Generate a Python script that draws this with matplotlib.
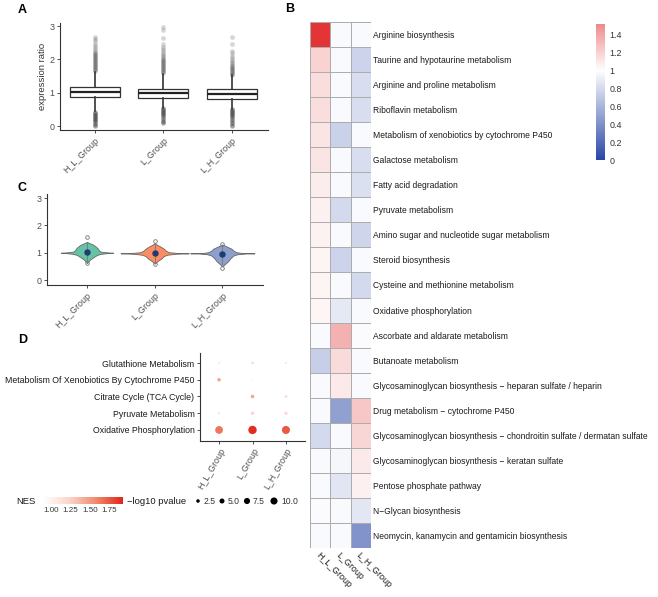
import matplotlib
matplotlib.use("Agg")
import matplotlib.pyplot as plt
import numpy as np
from matplotlib.colors import LinearSegmentedColormap, TwoSlopeNorm, Normalize

plt.rcParams['font.family'] = ['Liberation Sans', 'DejaVu Sans']

# ---------------- data ----------------
groups = ['H_L_Group', 'L_Group', 'L_H_Group']

# panel A: box statistics
box_q1 = [0.86, 0.85, 0.82]
box_med = [1.03, 0.99, 0.97]
box_q3 = [1.18, 1.12, 1.10]
whis_lo = [0.45, 0.55, 0.52]
whis_hi = [1.62, 1.57, 1.52]
fliers_hi = [
    [1.64, 1.67, 1.70, 1.73, 1.76, 1.79, 1.82, 1.85, 1.88, 1.91, 1.94, 1.97, 2.00, 2.03, 2.06,
     2.09, 2.12, 2.15, 2.19, 2.23, 2.28, 2.34, 2.40, 2.47, 2.55, 2.62, 2.67],
    [1.59, 1.62, 1.65, 1.68, 1.71, 1.74, 1.77, 1.80, 1.83, 1.86, 1.89, 1.92, 1.95, 1.98, 2.01,
     2.05, 2.09, 2.14, 2.19, 2.25, 2.31, 2.38, 2.46, 2.64, 2.88, 2.97],
    [1.54, 1.57, 1.60, 1.63, 1.66, 1.69, 1.72, 1.75, 1.78, 1.81, 1.84, 1.88, 1.92, 1.97, 2.03,
     2.10, 2.18, 2.26, 2.45, 2.68],
]
fliers_lo = [
    [0.43, 0.40, 0.37, 0.34, 0.31, 0.28, 0.25, 0.22, 0.19, 0.15, 0.11, 0.07, 0.03, 0.00],
    [0.53, 0.50, 0.47, 0.44, 0.41, 0.38, 0.35, 0.32, 0.29, 0.25, 0.21, 0.16, 0.11, 0.08],
    [0.50, 0.47, 0.44, 0.41, 0.38, 0.35, 0.32, 0.29, 0.26, 0.22, 0.18, 0.13, 0.08, 0.03, 0.00],
]

# panel C: violin outlines (value, half width in px)
violin_colors = ['#66c2a5', '#fc8d62', '#8da0cb']
violin_y = [
    [0.62, 0.75, 0.85, 0.92, 0.96, 0.985, 1.00, 1.015, 1.04, 1.08, 1.15, 1.22, 1.30, 1.36, 1.40],
    [0.60, 0.70, 0.80, 0.88, 0.93, 0.965, 0.98, 0.995, 1.02, 1.08, 1.15, 1.22, 1.30, 1.35],
    [0.50, 0.60, 0.70, 0.80, 0.90, 0.945, 0.975, 0.98, 0.99, 1.02, 1.08, 1.15, 1.20, 1.27, 1.30],
]
violin_w = [
    [0, 3, 7, 10, 14, 20, 26, 20, 14, 12, 11, 9, 6, 2, 0],
    [0, 3, 7, 9, 13, 22, 34, 22, 14, 11, 9, 6, 2, 0],
    [0, 3, 6, 8, 11, 15, 24, 32, 20, 14, 11, 9, 6, 2, 0],
]
violin_med = [1.02, 0.98, 0.97]
violin_out = [[1.56, 0.61], [1.43, 0.58], [1.33, 0.45]]
violin_whis = [[0.68, 1.40], [0.66, 1.34], [0.58, 1.28]]

# panel D: dot plot
dot_terms = ['Oxidative Phosphorylation', 'Pyruvate Metabolism', 'Citrate Cycle (TCA Cycle)',
             'Metabolism Of Xenobiotics By Cytochrome P450', 'Glutathione Metabolism']
dot_nes = [
    [1.65, 1.90, 1.75],
    [1.12, 1.25, 1.22],
    [np.nan, 1.45, 1.20],
    [1.45, 1.02, np.nan],
    [1.05, 1.15, 1.08],
]
dot_logp = [
    [12.0, 14.0, 13.0],
    [1.0, 2.0, 2.0],
    [np.nan, 2.5, 1.5],
    [2.5, 0.6, np.nan],
    [1.0, 1.6, 1.0],
]
nes_ticks = [1.00, 1.25, 1.50, 1.75]
size_legend = [2.5, 5.0, 7.5, 10.0]

# panel B: heatmap
heat_terms = [
    'Arginine biosynthesis',
    'Taurine and hypotaurine metabolism',
    'Arginine and proline metabolism',
    'Riboflavin metabolism',
    'Metabolism of xenobiotics by cytochrome P450',
    'Galactose metabolism',
    'Fatty acid degradation',
    'Pyruvate metabolism',
    'Amino sugar and nucleotide sugar metabolism',
    'Steroid biosynthesis',
    'Cysteine and methionine metabolism',
    'Oxidative phosphorylation',
    'Ascorbate and aldarate metabolism',
    'Butanoate metabolism',
    'Glycosaminoglycan biosynthesis \u2212 heparan sulfate / heparin',
    'Drug metabolism \u2212 cytochrome P450',
    'Glycosaminoglycan biosynthesis \u2212 chondroitin sulfate / dermatan sulfate',
    'Glycosaminoglycan biosynthesis \u2212 keratan sulfate',
    'Pentose phosphate pathway',
    'N\u2212Glycan biosynthesis',
    'Neomycin, kanamycin and gentamicin biosynthesis',
]
heat_vals = np.array([
    [1.90, 0.97, 0.97],
    [1.20, 0.97, 0.76],
    [1.15, 0.97, 0.82],
    [1.15, 0.97, 0.82],
    [1.12, 0.75, 0.97],
    [1.12, 0.97, 0.82],
    [1.08, 0.97, 0.83],
    [1.07, 0.80, 0.97],
    [1.06, 0.97, 0.78],
    [1.05, 0.76, 0.97],
    [1.05, 0.97, 0.80],
    [1.04, 0.88, 0.97],
    [0.97, 1.35, 0.98],
    [0.74, 1.16, 0.97],
    [0.97, 1.10, 0.97],
    [0.97, 0.48, 1.25],
    [0.80, 0.97, 1.18],
    [0.97, 0.96, 1.10],
    [0.97, 0.86, 1.07],
    [0.98, 0.97, 0.87],
    [0.97, 0.97, 0.41],
])
cbar_ticks = [0, 0.2, 0.4, 0.6, 0.8, 1, 1.2, 1.4]
cbar_labels = ['0', '0.2', '0.4', '0.6', '0.8', '1', '1.2', '1.4']

# ---------------- layout helpers ----------------
W, H = 658, 597
fig = plt.figure(figsize=(W / 100, H / 100), dpi=100)


def px_axes(x0, y0, x1, y1):
    return fig.add_axes([x0 / W, 1 - y1 / H, (x1 - x0) / W, (y1 - y0) / H])


def classic(ax, size=6.4):
    for s in ['top', 'right']:
        ax.spines[s].set_visible(False)
    for s in ['left', 'bottom']:
        ax.spines[s].set_color('#333333')
        ax.spines[s].set_linewidth(0.8)
    ax.tick_params(length=2.5, width=0.6, colors='#333333', labelsize=size, pad=1.5)
    for lab in ax.get_xticklabels() + ax.get_yticklabels():
        lab.set_color('#4d4d4d')


pos = [1, 2, 3]
txt_dark = '#1a1a1a'

# ---------------- panel A ----------------
axA = px_axes(60, 23, 268, 130)
stats = [dict(med=box_med[i], q1=box_q1[i], q3=box_q3[i], whislo=whis_lo[i],
              whishi=whis_hi[i], fliers=[]) for i in range(3)]
for i in range(3):
    axA.plot([pos[i]] * len(fliers_hi[i]), fliers_hi[i], 'o', ms=3.4, color='#333333',
             alpha=0.2, mec='none')
    axA.plot([pos[i]] * len(fliers_lo[i]), fliers_lo[i], 'o', ms=3.4, color='#333333',
             alpha=0.3, mec='none')
axA.bxp(stats, positions=pos, widths=0.73, showfliers=False, showcaps=False,
        patch_artist=True,
        boxprops=dict(facecolor='white', edgecolor='#333333', linewidth=0.9),
        medianprops=dict(color='#222222', linewidth=1.6),
        whiskerprops=dict(color='#333333', linewidth=1.2))
axA.set_xlim(0.49, 3.53)
axA.set_ylim(-0.12, 3.09)
axA.set_yticks([0, 1, 2, 3])
axA.set_xticks(pos)
axA.set_xticklabels(groups, rotation=45, ha='right', rotation_mode='anchor')
axA.set_ylabel('expression ratio', fontsize=6.8, color='#333333', labelpad=2)
classic(axA)

# ---------------- panel C ----------------
axC = px_axes(47, 194, 263, 285)
px_per_unit = 67.5
for i in range(3):
    y = np.array(violin_y[i])
    w = np.array(violin_w[i]) / px_per_unit
    axC.fill_betweenx(y, pos[i] - w, pos[i] + w, facecolor=violin_colors[i],
                      edgecolor='#666666', linewidth=0.6, zorder=2)
    axC.plot([pos[i], pos[i]], violin_whis[i], color='#777777', lw=0.6, zorder=3)
    axC.plot([pos[i]] * len(violin_out[i]), violin_out[i], 'o', ms=2.6, mfc='none',
             mec='#777777', mew=0.6, zorder=3)
    axC.plot(pos[i], violin_med[i], 'o', ms=3.6, color='#1f3b73', zorder=4)
axC.set_xlim(0.41, 3.6)
axC.set_ylim(-0.18, 3.15)
axC.set_yticks([0, 1, 2, 3])
axC.set_xticks(pos)
axC.set_xticklabels(groups, rotation=45, ha='right', rotation_mode='anchor')
classic(axC)

# ---------------- panel D ----------------
nes_cmap = LinearSegmentedColormap.from_list('nes', ['#ffffff', '#fbd5c8', '#f08a6c', '#e0261c'])
nes_norm = Normalize(vmin=0.89, vmax=1.93)


def dot_size(v):
    return 2.6 * np.asarray(v, dtype=float)


axD = px_axes(200, 353, 305, 441)
for r in range(len(dot_terms)):
    for c in range(3):
        if np.isnan(dot_nes[r][c]):
            continue
        axD.scatter(pos[c], r, s=dot_size(dot_logp[r][c]),
                    color=nes_cmap(nes_norm(dot_nes[r][c])), edgecolors='none', zorder=3)
axD.set_xlim(0.43, 3.57)
axD.set_ylim(-0.66, 4.6)
axD.set_yticks(range(len(dot_terms)))
axD.set_yticklabels(dot_terms)
axD.set_xticks(pos)
axD.set_xticklabels(groups, rotation=60, ha='right', rotation_mode='anchor')
classic(axD)
axD.tick_params(axis='y', labelsize=6.35)
for lab in axD.get_yticklabels():
    lab.set_color(txt_dark)

# NES colour legend
axN = px_axes(43, 497, 123, 504)
grad = np.linspace(0.89, 1.93, 200).reshape(1, -1)
axN.imshow(grad, aspect='auto', cmap=nes_cmap, norm=nes_norm, extent=[0.89, 1.93, 0, 1])
axN.set_yticks([])
axN.set_xticks(nes_ticks)
axN.set_xticklabels(['%.2f' % t for t in nes_ticks])
axN.tick_params(axis='x', length=0, labelsize=5.8, pad=2, colors='#333333')
for s in axN.spines.values():
    s.set_visible(False)
fig.text(16 / W, 1 - 501 / H, 'NES', fontsize=6.8, va='center', color=txt_dark)
fig.text(127 / W, 1 - 501 / H, '\u2212log10 pvalue', fontsize=6.8, va='center', color=txt_dark)

# size legend
axS = px_axes(190, 490, 300, 512)
axS.set_xlim(190, 300)
axS.set_ylim(0, 1)
axS.axis('off')
leg_x = [198, 222, 247, 274]
axS.scatter(leg_x, [0.5] * 4, s=dot_size(size_legend), color='black', edgecolors='none')
for x, v in zip(leg_x, size_legend):
    axS.text(x + 6 + (1 if v >= 10 else 0), 0.5, '%.1f' % v, fontsize=6.2, va='center',
             color='#333333')

# ---------------- panel B: heatmap ----------------
heat_cmap = LinearSegmentedColormap.from_list('heat', ['#2a48a6', '#ffffff', '#e02020'])
heat_norm = TwoSlopeNorm(vmin=0, vcenter=1, vmax=2)
axB = px_axes(310, 22, 371, 548)
nrow = len(heat_terms)
axB.pcolormesh(np.arange(4), np.arange(nrow + 1), heat_vals, cmap=heat_cmap, norm=heat_norm,
               edgecolors='#adadad', linewidth=0.7)
axB.set_xlim(0, 3)
axB.set_ylim(nrow, 0)
axB.yaxis.tick_right()
axB.set_yticks(np.arange(nrow) + 0.5)
axB.set_yticklabels(heat_terms, fontsize=6.15, color=txt_dark)
axB.set_xticks(np.arange(3) + 0.5)
axB.set_xticklabels(groups, rotation=-45, ha='left', va='top', rotation_mode='anchor',
                    fontsize=6.4, color=txt_dark)
axB.tick_params(axis='y', length=0, pad=1.5)
axB.tick_params(axis='x', length=0, pad=2)
for s in axB.spines.values():
    s.set_visible(False)

# colour bar
axCB = px_axes(596, 24, 605, 160)
cgrad = np.linspace(0, 1.52, 300).reshape(-1, 1)
axCB.imshow(cgrad, aspect='auto', origin='lower', cmap=heat_cmap, norm=heat_norm,
            extent=[0, 1, 0, 1.52])
axCB.set_xticks([])
axCB.yaxis.tick_right()
axCB.set_yticks(cbar_ticks)
axCB.set_yticklabels(cbar_labels)
axCB.tick_params(axis='y', length=0, labelsize=6.4, pad=3, colors='#333333')
for s in axCB.spines.values():
    s.set_visible(False)

# ---------------- panel letters ----------------
for letter, x, y in [('A', 18, 10), ('B', 285, 9), ('C', 18, 188), ('D', 18, 340)]:
    fig.text(x / W, 1 - y / H, letter, fontsize=9, fontweight='bold', va='center',
             color='black')

fig.savefig('out.png', dpi=100, facecolor='white')
